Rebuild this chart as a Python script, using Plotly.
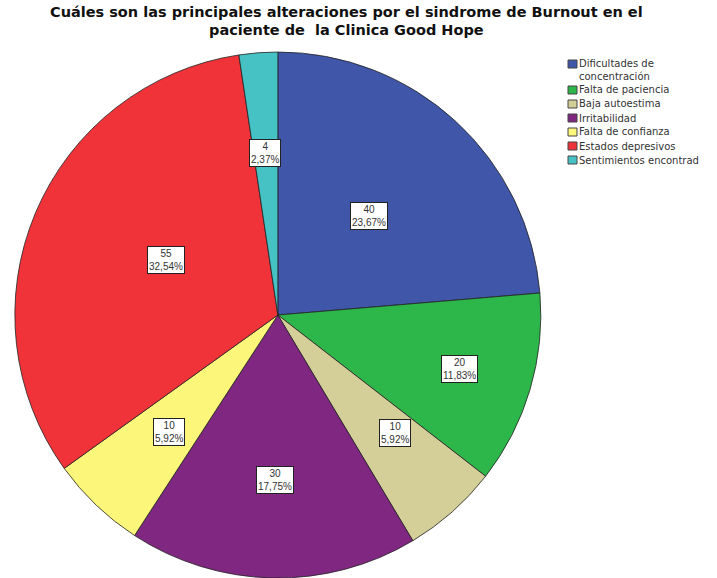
import math
import plotly.graph_objects as go

# datos del grafico
categorias = ['Dificultades de<br>concentración', 'Falta de paciencia', 'Baja autoestima',
              'Irritabilidad', 'Falta de confianza', 'Estados depresivos',
              'Sentimientos encontrad']
frecuencias = [40, 20, 10, 30, 10, 55, 4]
porcentajes = ['23,67%', '11,83%', '5,92%', '17,75%', '5,92%', '32,54%', '2,37%']
titulo = ['Cuáles son las principales alteraciones por el sindrome de Burnout en el',
          'paciente de  la Clinica Good Hope']

colores = ['#3F56A9', '#2DB64A', '#D4CE98', '#7F2781', '#FCF67A', '#EF3339', '#46C1C4']
# distancia radial de cada etiqueta (fraccion del radio)
dist_etiqueta = [0.51, 0.72, 0.67, 0.68, 0.69, 0.54, 0.67]

W, H = 717, 578
dom_x = [0.018, 0.757]
dom_y = [0.0, 0.91]
fuente = 'Liberation Sans, Arial'

fig = go.Figure(go.Pie(
    labels=[c.replace('<br>', ' ') for c in categorias],
    values=frecuencias,
    sort=False,
    direction='clockwise',
    rotation=0,
    textinfo='none',
    hoverinfo='label+value+percent',
    marker=dict(colors=colores, line=dict(color='#222222', width=0.8)),
    domain=dict(x=dom_x, y=dom_y),
    showlegend=False,
))

# etiquetas con recuadro blanco, calculadas a partir de los angulos
total = sum(frecuencias)
cx = (dom_x[0] + dom_x[1]) / 2
cy = (dom_y[0] + dom_y[1]) / 2
R = min((dom_x[1] - dom_x[0]) * W, (dom_y[1] - dom_y[0]) * H) / 2
acum = 0
anots = []
for v, p, d in zip(frecuencias, porcentajes, dist_etiqueta):
    mid = (acum + v / 2) / total
    acum += v
    th = 2 * math.pi * mid
    x = cx + R * d * math.sin(th) / W
    y = cy + R * d * math.cos(th) / H
    anots.append(dict(
        x=x, y=y, xref='paper', yref='paper', showarrow=False,
        text=f'{v}<br>{p}', align='center',
        font=dict(family=fuente, size=10, color='#333333'),
        bgcolor='white', bordercolor='#222222', borderwidth=1, borderpad=1,
    ))

# titulo en dos lineas (interlineado corto como en el original)
for i, linea in enumerate(titulo):
    anots.append(dict(
        x=0.483, y=1 - (11.5 + 19 * i) / H, xref='paper', yref='paper',
        xanchor='center', yanchor='middle', showarrow=False,
        text=f'<b>{linea}</b>',
        font=dict(family='DejaVu Sans', size=14.5, color='#111111'),
    ))

# leyenda dibujada a mano (mas compacta, como en SPSS)
shapes = []
ly = 70  # centro del primer elemento, en pixeles desde arriba
for cat, col in zip(categorias, colores):
    n = cat.count('<br>') + 1
    top_line = ly - (n - 1) * 6
    shapes.append(dict(
        type='rect', xref='paper', yref='paper',
        x0=568 / W, x1=577 / W,
        y0=1 - (top_line + 4) / H, y1=1 - (top_line - 4) / H,
        fillcolor=col, line=dict(color='#444444', width=1),
    ))
    anots.append(dict(
        x=577 / W, y=1 - ly / H, xref='paper', yref='paper',
        xanchor='left', yanchor='middle', showarrow=False,
        text=cat, align='left',
        font=dict(family='DejaVu Sans', size=10, color='#333333'),
    ))
    ly += 14 + (n - 1) * 6

fig.update_layout(
    width=W, height=H,
    paper_bgcolor='white',
    margin=dict(l=0, r=0, t=0, b=0),
    annotations=anots,
    shapes=shapes,
)

fig.write_html('out.html', config={'displayModeBar': False},
               post_script="document.body.style.margin='0';")
